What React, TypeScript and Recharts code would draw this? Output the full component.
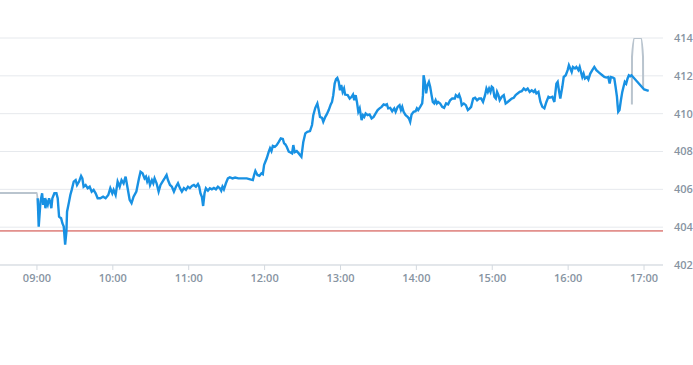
import React from "react";
import { LineChart, Line, XAxis, YAxis, CartesianGrid, ReferenceLine } from "recharts";

// minutes after 09:00
const minutes = [
  0.6, 1.4, 2.8, 4.1, 4.9, 5.9, 6.7, 7.5, 8.5, 9.6,
  10.7, 11.4, 12.2, 13.8, 15.4, 16.4, 17.5, 19.1, 20.1, 21.2,
  22.3, 23.3, 23.8, 25.4, 26.4, 27.5, 29.1, 30.6, 31.7, 33.3,
  34.9, 35.9, 36.9, 38.5, 40.1, 41.7, 43.3, 44.8, 46.4, 48.0,
  50.1, 52.3, 54.3, 56.4, 58.0, 59.6, 60.6, 62.2, 63.8, 65.4,
  66.9, 68.5, 70.1, 71.7, 73.3, 74.8, 76.4, 78.6, 80.7, 81.9,
  83.5, 85.1, 86.2, 87.2, 88.3, 89.4, 90.9, 92.0, 93.0, 94.6,
  96.2, 97.7, 99.3, 100.9, 102.5, 103.6, 105.2, 106.7, 108.3, 109.9,
  111.5, 113.1, 114.6, 116.2, 117.8, 119.4, 120.9, 122.5, 124.1, 125.7,
  127.3, 128.3, 129.3, 130.4, 131.4, 132.5, 133.6, 135.2, 136.7, 138.3,
  139.9, 141.5, 143.1, 144.6, 145.7, 146.7, 147.8, 149.4, 151.0, 152.5,
  154.6, 156.7, 159.3, 162.0, 164.6, 165.9, 168.6, 170.7, 171.7, 172.7,
  174.3, 175.9, 177.5, 178.6, 179.6, 180.6, 181.7, 183.3, 184.3, 185.4,
  186.5, 188.1, 189.6, 191.2, 192.8, 194.4, 195.4, 196.4, 197.5, 199.1,
  200.1, 201.7, 202.7, 203.8, 205.4, 207.0, 209.1, 210.6, 212.2, 213.8,
  215.9, 217.5, 218.5, 220.1, 221.7, 222.8, 223.8, 225.4, 226.4, 228.0,
  229.1, 230.7, 232.3, 233.3, 234.3, 235.4, 236.5, 237.5, 238.6, 239.6,
  240.6, 241.7, 242.8, 243.6, 245.7, 247.3, 248.8, 249.9, 250.9, 252.0,
  253.0, 254.1, 255.2, 256.7, 257.8, 258.8, 259.9, 261.5, 263.0, 264.6,
  266.2, 267.8, 269.4, 270.9, 272.5, 274.1, 275.7, 276.7, 277.7, 279.3,
  280.9, 282.5, 283.6, 285.2, 286.7, 287.8, 288.8, 289.9, 291.5, 293.1,
  294.1, 295.1, 296.2, 297.8, 299.4, 300.4, 301.4, 303.0, 304.6, 305.2,
  305.7, 306.7, 307.7, 308.8, 309.9, 310.9, 312.0, 313.0, 314.1, 315.2,
  316.2, 317.2, 318.8, 320.4, 321.9, 323.5, 325.1, 326.7, 328.3, 330.4,
  331.2, 332.8, 333.8, 334.9, 335.9, 337.5, 339.1, 340.7, 342.2, 343.3,
  344.9, 346.4, 348.0, 349.6, 351.2, 352.7, 354.3, 355.4, 356.5, 357.5,
  358.6, 359.6, 360.6, 361.7, 362.8, 363.8, 364.9, 365.9, 367.5, 369.1,
  370.6, 372.2, 373.8, 375.4, 377.0, 378.5, 380.1, 381.7, 383.3, 384.9,
  386.5, 388.0, 389.6, 391.2, 392.8, 393.8, 394.9, 396.5, 398.1, 399.6,
  401.2, 402.8, 404.4, 405.4, 407.5, 409.1, 410.7, 411.7, 412.7, 413.8,
  415.4, 416.5, 418.1, 419.6, 420.6, 421.7, 422.8, 423.8, 425.4, 426.5,
  428.1, 429.1, 430.1, 431.2, 432.2, 433.3, 434.9, 436.0, 437.5, 439.1,
  440.7, 442.3, 443.8, 445.4, 447.0, 448.6, 450.2, 451.7, 452.8, 453.8,
  455.4, 456.5, 457.5, 458.6, 459.1, 459.6, 460.6, 461.7, 462.8, 463.8,
  464.8, 465.9, 467.0, 468.0, 469.1, 470.1, 480.1, 483.7,
];

const prices = [
  405.53, 404.03, 405.35, 405.79, 405.18, 405.53, 405.0, 405.35, 405.18, 405.53,
  405.27, 405.0, 405.53, 405.79, 405.79, 405.53, 404.56, 404.47, 404.21, 404.03,
  403.07, 403.77, 404.82, 405.35, 405.7, 405.97, 406.41, 406.49, 406.23, 406.41,
  406.71, 406.58, 406.14, 406.23, 406.06, 406.14, 405.88, 405.97, 405.79, 405.53,
  405.53, 405.61, 405.53, 405.7, 406.06, 405.79, 405.97, 405.7, 406.41, 406.14,
  406.49, 406.32, 406.67, 406.06, 405.44, 405.27, 405.61, 405.88, 406.58, 406.93,
  406.85, 406.58, 406.67, 406.41, 406.58, 406.23, 406.49, 406.32, 406.58, 406.32,
  405.88, 406.23, 406.41, 406.58, 406.76, 406.49, 406.23, 406.14, 405.88, 406.14,
  406.32, 406.06, 405.88, 406.06, 405.97, 406.14, 406.06, 406.18, 406.23, 406.14,
  406.28, 406.14, 405.79, 405.61, 405.12, 405.79, 406.06, 405.93, 406.06, 406.0,
  406.07, 406.0, 406.14, 406.06, 405.93, 406.14, 406.0, 406.32, 406.58, 406.64,
  406.58, 406.62, 406.58, 406.58, 406.58, 406.58, 406.53, 406.49, 406.76, 406.97,
  406.76, 406.72, 406.85, 406.8, 407.29, 407.46, 407.64, 407.99, 408.17, 408.02,
  408.3, 408.25, 408.34, 408.51, 408.69, 408.66, 408.43, 408.38, 408.25, 407.99,
  407.96, 407.9, 408.34, 407.96, 408.02, 407.9, 407.72, 408.51, 408.96, 409.04,
  409.08, 409.4, 409.92, 410.31, 410.54, 410.19, 409.83, 409.78, 409.57, 409.83,
  409.96, 410.19, 410.49, 410.62, 410.98, 411.59, 411.82, 411.89, 411.68, 411.24,
  411.51, 411.15, 411.33, 411.01, 410.98, 410.8, 410.89, 411.01, 410.71, 410.98,
  410.62, 410.1, 410.28, 409.66, 409.92, 409.83, 410.01, 409.92, 409.96, 409.75,
  409.83, 410.01, 410.19, 410.28, 410.36, 410.49, 410.45, 410.49, 410.28, 410.31,
  410.13, 410.28, 410.1, 410.36, 410.45, 410.19, 410.36, 410.1, 409.92, 409.83,
  409.75, 409.57, 409.96, 410.1, 410.13, 410.28, 410.19, 410.36, 410.54, 410.98,
  412.03, 411.68, 411.07, 411.51, 411.68, 411.42, 410.98, 410.62, 410.54, 410.71,
  410.54, 410.62, 410.54, 410.36, 410.31, 410.54, 410.49, 410.71, 410.8, 410.8,
  410.98, 410.89, 411.01, 410.8, 410.45, 410.54, 410.45, 410.19, 410.28, 410.36,
  410.8, 410.84, 410.71, 410.8, 410.8, 410.62, 410.98, 411.33, 411.15, 411.33,
  411.15, 411.42, 411.36, 410.89, 410.8, 411.15, 410.98, 410.71, 410.89, 410.98,
  410.54, 410.62, 410.71, 410.8, 410.84, 410.98, 411.07, 411.15, 411.19, 411.33,
  411.24, 411.33, 411.15, 411.24, 411.15, 411.24, 411.07, 411.15, 410.62, 410.36,
  410.28, 410.62, 410.89, 410.84, 410.89, 410.62, 411.59, 411.68, 411.24, 410.8,
  411.42, 411.94, 412.03, 412.3, 412.56, 412.39, 412.21, 412.47, 412.39, 412.47,
  412.3, 412.47, 412.21, 411.94, 412.12, 411.86, 411.94, 411.81, 412.12, 412.3,
  412.47, 412.3, 412.21, 412.12, 412.03, 411.94, 411.91, 411.94, 411.59, 411.94,
  411.91, 411.86, 411.42, 410.89, 410.45, 410.1, 410.19, 410.71, 411.15, 411.42,
  411.68, 411.59, 411.86, 412.03, 411.98, 412.03, 411.28, 411.2,
];

const preTimes = [-30, 0, 1];
const prePrices = [405.8, 405.8, 404.9];
const postTimes = [470.4, 470.5, 472.5, 477.5, 479.2, 479.3];
const postPrices = [410.49, 413.0, 414.0, 414.0, 413.0, 411.35];

const referencePrice = 403.8;
const timeTicks = [0, 60, 120, 180, 240, 300, 360, 420, 480];
const timeLabels = ["09:00", "10:00", "11:00", "12:00", "13:00", "14:00", "15:00", "16:00", "17:00"];
const priceTicks = [402, 404, 406, 408, 410, 412, 414];

const mainData = minutes.map((t, i) => ({ t, price: prices[i] }));
const preData = preTimes.map((t, i) => ({ t, price: prePrices[i] }));
const postData = postTimes.map((t, i) => ({ t, price: postPrices[i] }));

const labelColor = "#8794a2";
const tickStyle = { fill: labelColor, fontSize: 11, fontFamily: "'Open Sans', sans-serif", fontWeight: 600 };

export default function App() {
  return (
    <div style={{ position: "absolute", left: -1, top: 0, width: 694, height: 365, overflow: "hidden" }}>
      <LineChart
        width={694}
        height={365}
        margin={{ top: 38, right: 0, bottom: 70, left: 0 }}
      >
        <CartesianGrid vertical={false} stroke="#e6e9ed" strokeWidth={1} />
        <XAxis
          dataKey="t"
          type="number"
          domain={[-30, 495]}
          ticks={timeTicks}
          tickFormatter={(v) => timeLabels[timeTicks.indexOf(v)] ?? ""}
          allowDataOverflow
          height={30}
          tickSize={5}
          tickMargin={4}
          axisLine={{ stroke: "#d3d9df" }}
          tickLine={{ stroke: "#d3d9df" }}
          tick={tickStyle}
        />
        <YAxis
          orientation="right"
          type="number"
          domain={[402, 414]}
          ticks={priceTicks}
          allowDataOverflow
          width={30}
          axisLine={false}
          tickLine={false}
          tickSize={0}
          tickMargin={11}
          tick={{ ...tickStyle, textAnchor: "start" }}
        />
        <ReferenceLine y={referencePrice} stroke="#cc3b36" strokeWidth={1} />
        <Line data={preData} dataKey="price" type="monotone" stroke="#b9c4ce" strokeWidth={2} dot={false} isAnimationActive={false} />
        <Line data={postData} dataKey="price" type="monotone" stroke="#b9c4ce" strokeWidth={2} dot={false} isAnimationActive={false} />
        <Line data={mainData} dataKey="price" type="linear" stroke="#1891e3" strokeWidth={2.4} dot={false} isAnimationActive={false} />
      </LineChart>
    </div>
  );
}
